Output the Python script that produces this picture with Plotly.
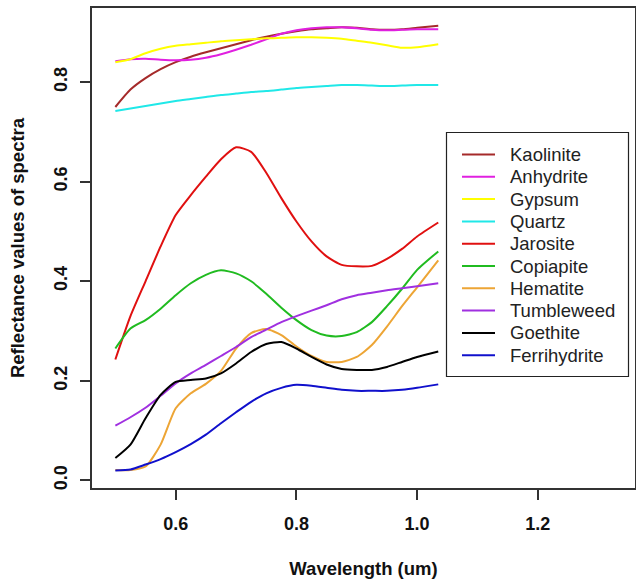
import plotly.graph_objects as go

wavelength = [0.50, 0.525, 0.55, 0.575, 0.60, 0.625, 0.65, 0.675, 0.70, 0.725, 0.75,
              0.775, 0.80, 0.825, 0.85, 0.875, 0.90, 0.925, 0.95, 0.975, 1.00, 1.035]

kaolinite = [0.750, 0.785, 0.808, 0.826, 0.840, 0.851, 0.860, 0.868, 0.876, 0.884, 0.891,
             0.897, 0.902, 0.906, 0.908, 0.910, 0.909, 0.906, 0.905, 0.906, 0.909, 0.913]
anhydrite = [0.842, 0.846, 0.847, 0.845, 0.844, 0.845, 0.849, 0.856, 0.865, 0.875, 0.886,
             0.897, 0.904, 0.908, 0.910, 0.910, 0.908, 0.905, 0.904, 0.905, 0.906, 0.906]
gypsum = [0.840, 0.846, 0.858, 0.867, 0.873, 0.876, 0.879, 0.882, 0.884, 0.886, 0.888,
          0.889, 0.890, 0.890, 0.889, 0.887, 0.883, 0.879, 0.874, 0.869, 0.870, 0.876]
quartz = [0.742, 0.747, 0.752, 0.757, 0.762, 0.766, 0.770, 0.774, 0.777, 0.780, 0.782,
          0.785, 0.788, 0.790, 0.792, 0.794, 0.794, 0.793, 0.792, 0.793, 0.794, 0.794]
jarosite = [0.243, 0.330, 0.400, 0.470, 0.533, 0.573, 0.610, 0.645, 0.669, 0.660, 0.618,
            0.567, 0.520, 0.480, 0.450, 0.433, 0.430, 0.431, 0.445, 0.465, 0.490, 0.518]
copiapite = [0.265, 0.305, 0.322, 0.345, 0.372, 0.396, 0.413, 0.422, 0.416, 0.400, 0.375,
             0.347, 0.322, 0.302, 0.291, 0.290, 0.298, 0.318, 0.350, 0.385, 0.423, 0.460]
hematite = [0.021, 0.021, 0.028, 0.072, 0.145, 0.175, 0.194, 0.220, 0.265, 0.296, 0.304,
            0.292, 0.269, 0.250, 0.238, 0.238, 0.248, 0.272, 0.309, 0.350, 0.388, 0.442]
tumbleweed = [0.110, 0.127, 0.146, 0.170, 0.195, 0.215, 0.232, 0.250, 0.268, 0.288, 0.303,
              0.318, 0.330, 0.341, 0.352, 0.364, 0.372, 0.377, 0.382, 0.386, 0.390, 0.396]
goethite = [0.045, 0.072, 0.125, 0.172, 0.198, 0.202, 0.205, 0.215, 0.235, 0.258, 0.274,
            0.278, 0.265, 0.248, 0.233, 0.224, 0.222, 0.222, 0.228, 0.238, 0.248, 0.259]
ferrihydrite = [0.020, 0.022, 0.032, 0.043, 0.057, 0.073, 0.092, 0.115, 0.137, 0.158, 0.175,
                0.186, 0.192, 0.190, 0.186, 0.182, 0.180, 0.180, 0.180, 0.182, 0.186, 0.193]

names = ["Kaolinite", "Anhydrite", "Gypsum", "Quartz", "Jarosite",
         "Copiapite", "Hematite", "Tumbleweed", "Goethite", "Ferrihydrite"]
series = [kaolinite, anhydrite, gypsum, quartz, jarosite,
          copiapite, hematite, tumbleweed, goethite, ferrihydrite]
colors = ["#A52A2A", "#E020E0", "#FFFF00", "#20E8E8", "#E01010",
          "#20BB20", "#EDA535", "#A030E0", "#000000", "#1010CC"]

x_ticks = [0.6, 0.8, 1.0, 1.2]
y_ticks = [0.0, 0.2, 0.4, 0.6, 0.8]

W, H = 636, 579
L, R, T, B = 92, 1, 8, 91
pw, ph = W - L - R, H - T - B

fig = go.Figure()
for name, vals, col in zip(names, series, colors):
    fig.add_trace(go.Scatter(x=wavelength, y=vals, mode="lines", name=name,
                             line=dict(color=col, width=2, shape="spline", smoothing=0.6),
                             showlegend=False))


def px2x(px):
    return (px - L) / pw


def py2y(py):
    return (H - B - py) / ph


FONT = "Liberation Sans, Arial"
shapes = [dict(type="rect", xref="paper", yref="paper",
               x0=px2x(446.5), x1=px2x(628.5), y0=py2y(376.5), y1=py2y(132.5),
               line=dict(color="#222222", width=1.2), fillcolor="white", layer="above")]
annotations = []
for i, (name, col) in enumerate(zip(names, colors)):
    yy = 154.5 + 22.3 * i
    shapes.append(dict(type="line", xref="paper", yref="paper",
                       x0=px2x(462), x1=px2x(495), y0=py2y(yy), y1=py2y(yy),
                       line=dict(color=col, width=2), layer="above"))
    annotations.append(dict(text=name, xref="paper", yref="paper",
                            x=px2x(508), y=py2y(yy), xanchor="left", yanchor="middle",
                            showarrow=False,
                            font=dict(family=FONT, size=18.5, color="#222222")))

fig.update_layout(
    width=W, height=H,
    margin=dict(l=L, r=R, t=T, b=B),
    paper_bgcolor="white", plot_bgcolor="white",
    shapes=shapes, annotations=annotations,
    font=dict(family=FONT, color="#111111"),
    xaxis=dict(range=[0.4613, 1.361], tickvals=x_ticks, ticktext=[f"{v:.1f}" for v in x_ticks],
               automargin=False,
               showgrid=False, zeroline=False, showline=True, mirror=True,
               linecolor="#333333", linewidth=1.5, ticks="outside", ticklen=10,
               tickcolor="#333333", tickwidth=1.5,
               tickfont=dict(family=FONT, size=18, weight="bold"),
               ticklabelstandoff=9,
               title=dict(text="Wavelength (um)", standoff=31,
                          font=dict(family=FONT, size=18.5, weight="bold"))),
    yaxis=dict(range=[-0.0151, 0.9488], tickvals=y_ticks, ticktext=[f"{v:.1f}" for v in y_ticks],
               automargin=False,
               showgrid=False, zeroline=False, showline=True, mirror=True,
               linecolor="#333333", linewidth=1.5, ticks="outside", ticklen=10,
               tickcolor="#333333", tickwidth=1.5, tickangle=-90,
               tickfont=dict(family=FONT, size=18, weight="bold"),
               ticklabelstandoff=6,
               title=dict(text="Reflectance values of spectra", standoff=22,
                          font=dict(family=FONT, size=18.5, weight="bold"))),
)

fig.write_html("out.html", config={"displayModeBar": False},
               post_script="document.body.style.margin='0';")
